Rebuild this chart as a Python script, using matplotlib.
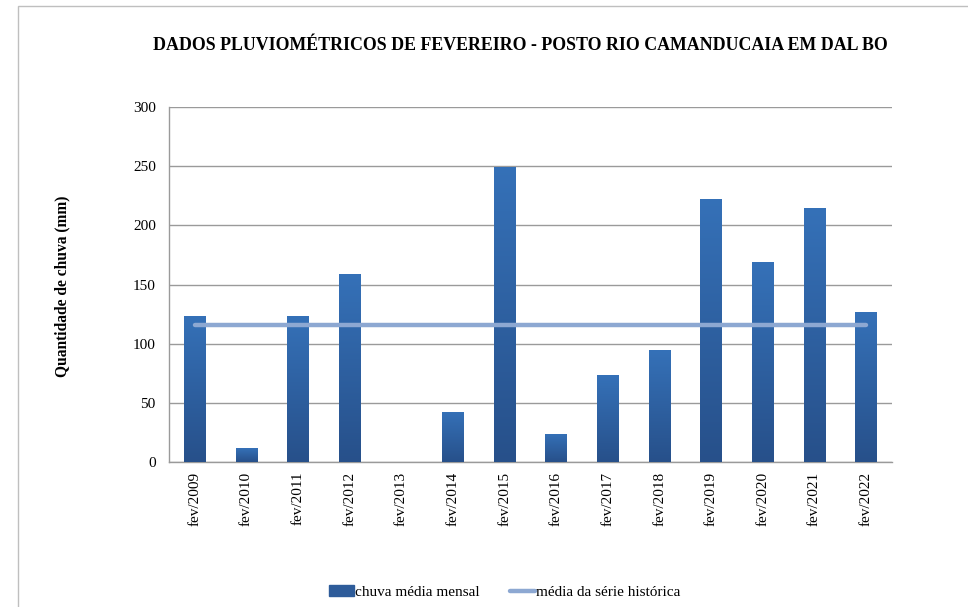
import numpy as np
import matplotlib
matplotlib.use("Agg")
import matplotlib.pyplot as plt
from matplotlib.colors import LinearSegmentedColormap
from matplotlib.patches import Rectangle
from matplotlib.lines import Line2D

# dados
categorias = ["fev/2009", "fev/2010", "fev/2011", "fev/2012", "fev/2013", "fev/2014",
              "fev/2015", "fev/2016", "fev/2017", "fev/2018", "fev/2019", "fev/2020",
              "fev/2021", "fev/2022"]
chuva = [123.4, 11.8, 123.4, 159, 0, 42.3, 249.5, 23.7, 73.5, 94.6, 222.5, 169, 214.6, 126.8]
media_historica = [115.8] * len(categorias)

titulo = "DADOS PLUVIOMÉTRICOS DE FEVEREIRO - POSTO RIO CAMANDUCAIA EM DAL BO"
rotulo_y = "Quantidade de chuva (mm)"

plt.rcParams['font.family'] = ['Liberation Serif', 'DejaVu Serif']

fig = plt.figure(figsize=(9.68, 6.07), dpi=100)
ax = fig.add_axes([169 / 968, 1 - 462 / 607, (892 - 169) / 968, (462 - 107) / 607])

x = np.arange(len(categorias))
largura = 0.42
barras = ax.bar(x, chuva, width=largura, color="#2F5E9E", zorder=2)

# gradiente vertical nas barras
cmap = LinearSegmentedColormap.from_list("grad", ["#27508A", "#3571B8"])
grad = np.linspace(0, 1, 256).reshape(-1, 1)
for b in barras:
    h = b.get_height()
    if h <= 0:
        continue
    x0 = b.get_x()
    im = ax.imshow(grad, cmap=cmap, origin="lower", aspect="auto",
                   extent=[x0, x0 + b.get_width(), 0, h], zorder=3)
    im.set_clip_path(b)

ax.plot(x, media_historica, color="#8DA8D2", lw=3.2, solid_capstyle="round", zorder=4)

ax.set_xlim(-0.5, len(categorias) - 0.5)
ax.set_ylim(0, 300)
ax.set_yticks(range(0, 301, 50))
ax.set_xticks(x)
ax.set_xticklabels(categorias, rotation=90, fontsize=11)
ax.tick_params(axis="y", labelsize=11, length=0, pad=9.5)
ax.tick_params(axis="x", length=0, pad=7)
ax.grid(axis="y", color="#9A9A9A", lw=1, zorder=0)
for s in ["top", "right"]:
    ax.spines[s].set_visible(False)
for s in ["left", "bottom"]:
    ax.spines[s].set_color("#9A9A9A")
    ax.spines[s].set_linewidth(1)

fig.text(520 / 968, 1 - 45 / 607, titulo, ha="center", va="center",
         fontsize=12.85, fontweight="bold")
fig.text(62 / 968, 1 - 286 / 607, rotulo_y, ha="center", va="center",
         rotation=90, fontsize=11.2, fontweight="bold")

# legenda
handles = [Rectangle((0, 0), 1, 1, color="#2E5C9A"),
           Line2D([0], [0], color="#8DA8D2", lw=3.2, solid_capstyle="round")]
fig.legend(handles, ["chuva média mensal", "média da série histórica"],
           loc="center", bbox_to_anchor=(505 / 968, 1 - 592 / 607), ncol=2,
           frameon=False, fontsize=11, handlelength=1.6, handletextpad=0.1,
           columnspacing=2.0)

# borda da área do gráfico
fig.patches.append(Rectangle((18 / 968, -0.01), 1.0, 1 - 6 / 607 + 0.01,
                             transform=fig.transFigure, fill=False,
                             edgecolor="#BFBFBF", lw=1))

fig.savefig("out.png", dpi=100)
